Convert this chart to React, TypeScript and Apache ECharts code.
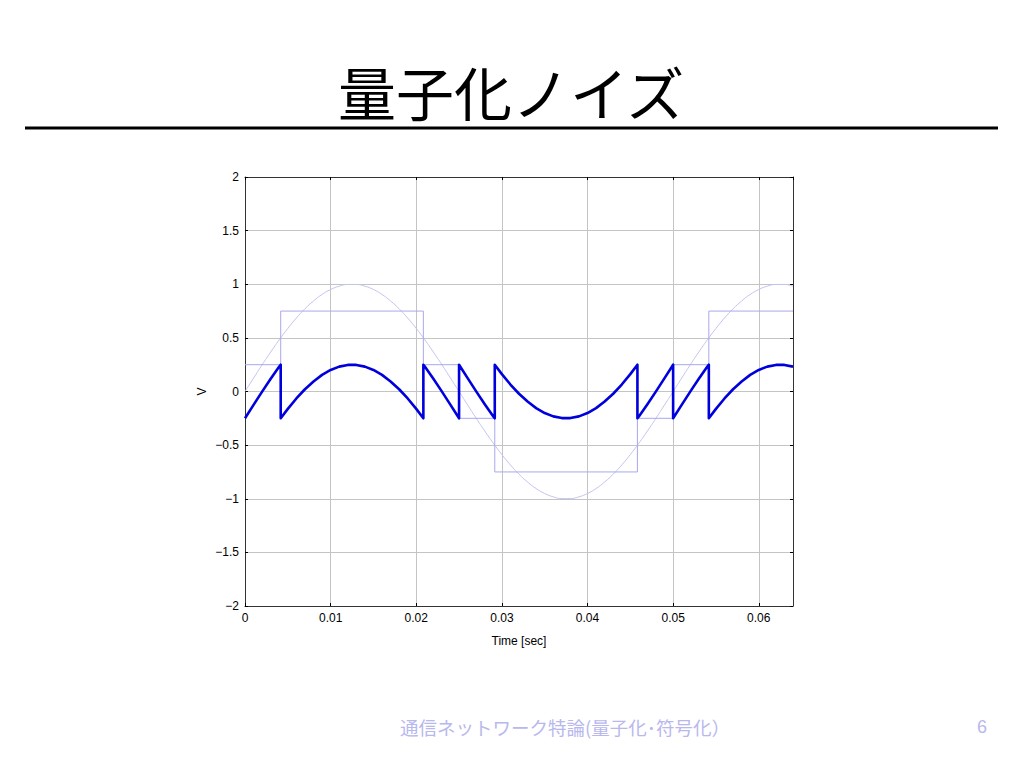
import React, { useEffect, useRef } from "react";
import * as echarts from "echarts";

// Sampled input signal (V), one sample per millisecond from 0 to 0.064 s
const sampleStep = 0.001;
const sineSamples = [
  0, 0.125, 0.249, 0.368, 0.482, 0.588, 0.685, 0.771, 0.844, 0.905, 0.951, 0.982, 0.998,
  0.998, 0.982, 0.951, 0.905, 0.844, 0.771, 0.685, 0.588, 0.482, 0.368, 0.249, 0.125, 0,
  -0.125, -0.249, -0.368, -0.482, -0.588, -0.685, -0.771, -0.844, -0.905, -0.951, -0.982, -0.998,
  -0.998, -0.982, -0.951, -0.905, -0.844, -0.771, -0.685, -0.588, -0.482, -0.368, -0.249, -0.125, 0,
  0.125, 0.249, 0.368, 0.482, 0.588, 0.685, 0.771, 0.844, 0.905, 0.951, 0.982, 0.998, 0.998, 0.982,
];

// Quantizer step boundaries (s), signal value at those boundaries, and quantized level of each step
const breakTimes = [0, 0.00417, 0.02083, 0.025, 0.02917, 0.04583, 0.05, 0.05417, 0.064];
const breakSine = [0, 0.5, 0.5, 0, -0.5, -0.5, 0, 0.5, 0.982];
const quantLevels = [0.25, 0.75, 0.25, -0.25, -0.75, -0.25, 0.25, 0.75];

const yTicks = [-2, -1.5, -1, -0.5, 0, 0.5, 1, 1.5, 2];
const xTicks = [0, 0.01, 0.02, 0.03, 0.04, 0.05, 0.06];

const TITLE = "量子化ノイズ";
const FOOTER = "通信ネットワーク特論(量子化･符号化）";
const PAGE = "6";

export default function App() {
  const ref = useRef<HTMLDivElement>(null);

  useEffect(() => {
    document.body.style.margin = "0";
    if (!ref.current) return;
    const chart = echarts.init(ref.current, undefined, { renderer: "svg" });

    const sinePts = sineSamples.map((v, i) => [i * sampleStep, v]);
    const stairPts: number[][] = [];
    const errPts: number[][] = [];
    for (let k = 0; k < quantLevels.length; k++) {
      const b0 = breakTimes[k];
      const b1 = breakTimes[k + 1];
      const L = quantLevels[k];
      stairPts.push([b0, L], [b1, L]);
      errPts.push([b0, breakSine[k] - L]);
      sineSamples.forEach((v, i) => {
        const t = i * sampleStep;
        if (t > b0 + 1e-9 && t < b1 - 1e-9) errPts.push([t, v - L]);
      });
      errPts.push([b1, breakSine[k + 1] - L]);
    }

    const font = "Liberation Sans, Arial, sans-serif";
    const axisLineColor = "#333333";
    const fmtY = (v: number) => (yTicks.includes(v) ? String(v).replace("-", "\u2212") : "");
    const fmtX = (v: number) => {
      const m = xTicks.find((x) => Math.abs(x - v) < 1e-9);
      return m === undefined ? "" : String(m);
    };

    chart.setOption({
      animation: false,
      backgroundColor: "#ffffff",
      grid: { left: 245, top: 177, width: 548, height: 429, containLabel: false },
      xAxis: [
        {
          type: "value",
          min: 0,
          max: 0.064,
          interval: 0.01,
          position: "bottom",
          name: "Time [sec]",
          nameLocation: "middle",
          nameGap: 29,
          nameTextStyle: { color: "#000", fontSize: 12, fontFamily: font },
          axisLine: { show: true, onZero: false, lineStyle: { color: axisLineColor, width: 1 } },
          axisTick: { show: true, inside: true, length: 3, lineStyle: { color: "#000" } },
          axisLabel: { color: "#000", fontSize: 12, fontFamily: font, margin: 6, formatter: fmtX, showMaxLabel: false },
          splitLine: { show: true, lineStyle: { color: "#c4c4c4", width: 1 } },
        },
        {
          type: "value",
          min: 0,
          max: 0.064,
          interval: 0.01,
          position: "top",
          axisLine: { show: true, onZero: false, lineStyle: { color: axisLineColor, width: 1 } },
          axisTick: { show: true, inside: true, length: 3, lineStyle: { color: "#000" } },
          axisLabel: { show: false },
          splitLine: { show: false },
        },
      ],
      yAxis: [
        {
          type: "value",
          min: -2,
          max: 2,
          interval: 0.5,
          position: "left",
          name: "V",
          nameLocation: "middle",
          nameGap: 37,
          nameMoveOverlap: false,
          nameRotate: 90,
          nameTextStyle: { color: "#000", fontSize: 12, fontFamily: font },
          axisLine: { show: true, onZero: false, lineStyle: { color: axisLineColor, width: 1 } },
          axisTick: { show: true, inside: true, length: 3, lineStyle: { color: "#000" } },
          axisLabel: { color: "#000", fontSize: 12, fontFamily: font, margin: 6, formatter: fmtY },
          splitLine: { show: true, lineStyle: { color: "#c4c4c4", width: 1 } },
        },
        {
          type: "value",
          min: -2,
          max: 2,
          interval: 0.5,
          position: "right",
          axisLine: { show: true, onZero: false, lineStyle: { color: axisLineColor, width: 1 } },
          axisTick: { show: true, inside: true, length: 3, lineStyle: { color: "#000" } },
          axisLabel: { show: false },
          splitLine: { show: false },
        },
      ],
      series: [
        {
          name: "input",
          type: "line",
          data: sinePts,
          smooth: true,
          showSymbol: false,
          lineStyle: { color: "#c4c4f2", width: 1 },
          z: 2,
        },
        {
          name: "quantized",
          type: "line",
          data: stairPts,
          showSymbol: false,
          lineStyle: { color: "#a8a8ee", width: 1 },
          z: 3,
        },
        {
          name: "error",
          type: "line",
          data: errPts,
          showSymbol: false,
          lineStyle: { color: "#0000dc", width: 2.6, join: "round" },
          z: 4,
        },
      ],
      graphic: [
        {
          type: "text",
          left: "center",
          top: 62,
          style: {
            text: TITLE,
            fontSize: 58,
            fontFamily: "Noto Sans CJK JP",
            fill: "#000",
          },
        },
        {
          type: "line",
          shape: { x1: 25, y1: 128, x2: 998, y2: 128 },
          style: { stroke: "#000", lineWidth: 3 },
        },
        {
          type: "text",
          x: 400,
          y: 727,
          style: {
            text: FOOTER,
            fontSize: 18.5,
            fontFamily: "Noto Sans CJK JP",
            fill: "#b8b8ee",
            verticalAlign: "middle",
          },
        },
        {
          type: "text",
          x: 982,
          y: 727,
          style: {
            text: PAGE,
            fontSize: 18,
            fontFamily: "Liberation Sans, Arial, sans-serif",
            fill: "#b8b8ee",
            align: "center",
            verticalAlign: "middle",
          },
        },
      ],
    });

    return () => chart.dispose();
  }, []);

  return <div ref={ref} style={{ width: 1024, height: 768 }} />;
}
